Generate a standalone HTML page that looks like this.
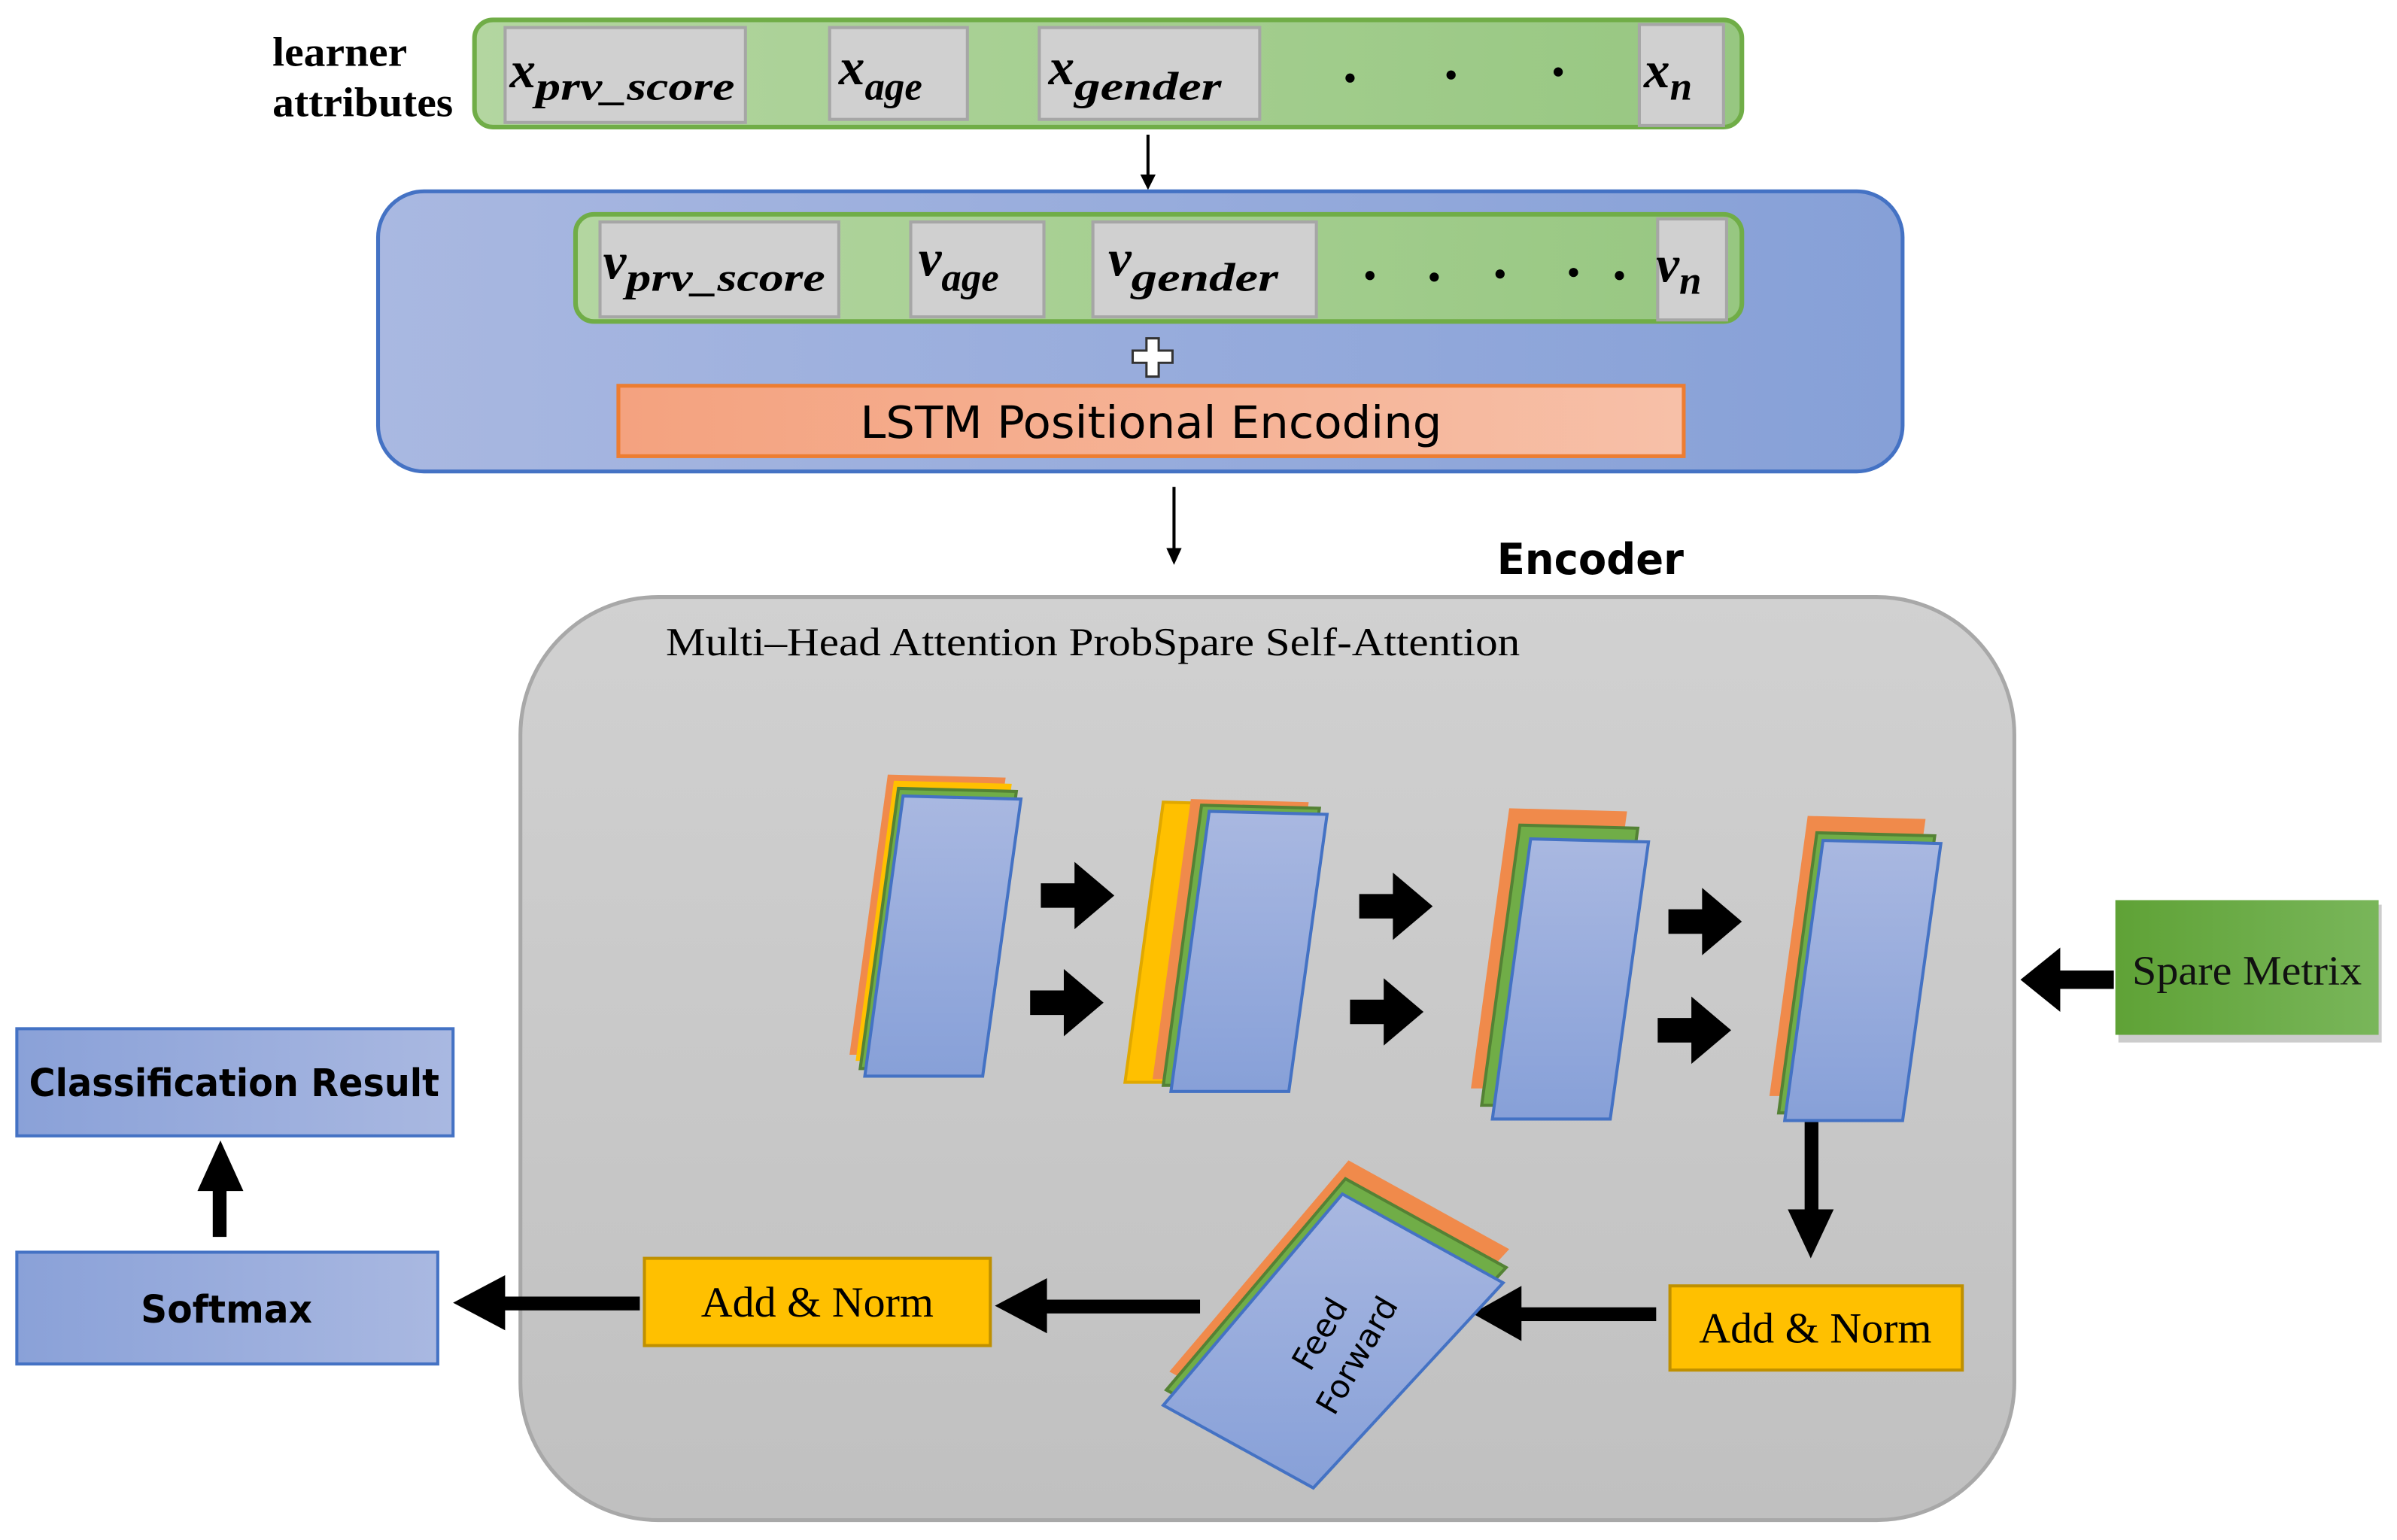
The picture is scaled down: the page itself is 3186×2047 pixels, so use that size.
<!DOCTYPE html>
<html><head><meta charset="utf-8"><style>html,body{margin:0;padding:0;background:#fff}svg{display:block}</style></head>
<body>
<svg width="3186" height="2047" viewBox="0 0 1566 1006" preserveAspectRatio="none" xmlns="http://www.w3.org/2000/svg">
<defs>
<linearGradient id="gg" x1="0" x2="1"><stop offset="0" stop-color="#b3d6a0"/><stop offset="1" stop-color="#97c781"/></linearGradient>
<linearGradient id="bg" x1="0" x2="1"><stop offset="0" stop-color="#a9b8e1"/><stop offset="1" stop-color="#86a0d7"/></linearGradient>
<linearGradient id="bg2" x1="0" x2="1"><stop offset="0" stop-color="#8aa1d8"/><stop offset="1" stop-color="#a9b8e1"/></linearGradient>
<linearGradient id="og" x1="0" x2="1"><stop offset="0" stop-color="#f4a27f"/><stop offset="1" stop-color="#f7c0a8"/></linearGradient>
<linearGradient id="gray" x1="0" y1="0" x2="0" y2="1"><stop offset="0" stop-color="#d1d1d1"/><stop offset="1" stop-color="#c0c0c0"/></linearGradient>
<linearGradient id="pb" x1="0" y1="0" x2="0" y2="1"><stop offset="0" stop-color="#a9b8e1"/><stop offset="1" stop-color="#87a0d8"/></linearGradient>
<linearGradient id="sg" x1="0" x2="1"><stop offset="0" stop-color="#5fa236"/><stop offset="1" stop-color="#79b65a"/></linearGradient>
<path id="pl" d="M25,0 L102,2 L77,183 L0,183 Z"/>
</defs>

<g font-family="Liberation Serif, serif" font-weight="bold" font-size="27" fill="#000">
<text x="178" y="43" textLength="88" lengthAdjust="spacingAndGlyphs">learner</text><text x="178" y="76" textLength="118" lengthAdjust="spacingAndGlyphs">attributes</text>
<text x="275" y="167" font-size="24" textLength="60" lengthAdjust="spacingAndGlyphs">Word</text><text x="275" y="198" font-size="24" textLength="66" lengthAdjust="spacingAndGlyphs">vector</text>
</g>
<rect x="310" y="13" width="828" height="70" rx="12" fill="url(#gg)" stroke="#70ad47" stroke-width="3"/>
<g fill="#d0d0d0" stroke="#a6a6a6" stroke-width="2">
<rect x="330" y="18" width="157" height="62"/><rect x="542" y="18" width="90" height="60"/><rect x="679" y="18" width="144" height="60"/><rect x="1071" y="16" width="55" height="66"/>
</g>
<g font-family="Liberation Serif, serif" font-style="italic" font-weight="bold" fill="#000">
<text x="333" y="57" font-size="34">x<tspan font-size="26" dy="8" textLength="130" lengthAdjust="spacingAndGlyphs">prv_score</tspan></text>
<text x="548" y="55" font-size="34">x<tspan font-size="26" dy="10">age</tspan></text>
<text x="685" y="55" font-size="34">x<tspan font-size="26" dy="10" textLength="96" lengthAdjust="spacingAndGlyphs">gender</tspan></text>
<text x="1074" y="57" font-size="34">x<tspan font-size="26" dy="8">n</tspan></text>
</g>
<g fill="#000"><circle cx="882" cy="51" r="3"/><circle cx="948" cy="49" r="3"/><circle cx="1018" cy="47" r="3"/></g>
<line x1="750" y1="88" x2="750" y2="118" stroke="#000" stroke-width="2"/><polygon points="745,114 755,114 750,124"/>

<rect x="247" y="125" width="996" height="183" rx="30" fill="url(#bg)" stroke="#4472c4" stroke-width="2.5"/>
<rect x="376" y="140" width="762" height="70" rx="12" fill="url(#gg)" stroke="#70ad47" stroke-width="3"/>
<g fill="#d0d0d0" stroke="#a6a6a6" stroke-width="2">
<rect x="392" y="145" width="156" height="62"/><rect x="595" y="145" width="87" height="62"/><rect x="714" y="145" width="146" height="62"/><rect x="1083" y="143" width="45" height="66"/>
</g>
<g font-family="Liberation Serif, serif" font-style="italic" font-weight="bold" fill="#000">
<text x="394" y="182" font-size="34">v<tspan font-size="26" dy="8" textLength="130" lengthAdjust="spacingAndGlyphs">prv_score</tspan></text>
<text x="600" y="180" font-size="34">v<tspan font-size="26" dy="10">age</tspan></text>
<text x="724" y="180" font-size="34">v<tspan font-size="26" dy="10" textLength="96" lengthAdjust="spacingAndGlyphs">gender</tspan></text>
<text x="1082" y="184" font-size="34">v<tspan font-size="26" dy="8">n</tspan></text>
</g>
<g fill="#000"><circle cx="895" cy="180" r="3"/><circle cx="937" cy="181" r="3"/><circle cx="980" cy="179" r="3"/><circle cx="1028" cy="178" r="3"/><circle cx="1058" cy="180" r="3"/></g>
<polygon points="749,221 757,221 757,229 766,229 766,237 757,237 757,246 749,246 749,237 740,237 740,229 749,229" fill="#fff" stroke="#333" stroke-width="1.5"/>
<rect x="404" y="252" width="696" height="46" fill="url(#og)" stroke="#ed7d31" stroke-width="2.5"/>
<text x="752" y="286" text-anchor="middle" font-family="DejaVu Sans, sans-serif" font-size="29" fill="#000" textLength="380" lengthAdjust="spacingAndGlyphs">LSTM Positional Encoding</text>
<line x1="767" y1="318" x2="767" y2="362" stroke="#000" stroke-width="2"/><polygon points="762,358 772,358 767,369"/>

<text x="978" y="375" font-family="DejaVu Sans, sans-serif" font-weight="bold" font-size="28" textLength="122" lengthAdjust="spacingAndGlyphs">Encoder</text>

<rect x="340" y="390" width="976" height="603" rx="90" fill="url(#gray)" stroke="#a8a8a8" stroke-width="2.5"/>
<text x="435" y="428" font-family="Liberation Serif, serif" font-size="26" textLength="558" lengthAdjust="spacingAndGlyphs">Multi–Head Attention  ProbSpare Self-Attention</text>

<g stroke-width="2">
<use href="#pl" x="555" y="506" fill="#f08a4b"/>
<use href="#pl" x="559" y="510" fill="#ffc000"/>
<use href="#pl" x="562" y="515" fill="#70ad47" stroke="#548235"/>
<use href="#pl" x="565" y="520" fill="url(#pb)" stroke="#4472c4"/>

<use href="#pl" x="735" y="524" fill="#ffc000" stroke="#e0a800"/>
<use href="#pl" x="753" y="522" fill="#f08a4b"/>
<use href="#pl" x="760" y="526" fill="#70ad47" stroke="#548235"/>
<use href="#pl" x="765" y="530" fill="url(#pb)" stroke="#4472c4"/>

<use href="#pl" x="961" y="528" fill="#f08a4b"/>
<use href="#pl" x="968" y="539" fill="#70ad47" stroke="#548235"/>
<use href="#pl" x="975" y="548" fill="url(#pb)" stroke="#4472c4"/>

<use href="#pl" x="1156" y="533" fill="#f08a4b"/>
<use href="#pl" x="1162" y="544" fill="#70ad47" stroke="#548235"/>
<use href="#pl" x="1166" y="549" fill="url(#pb)" stroke="#4472c4"/>
</g>

<g fill="#000">
<polygon points="680,577 702,577 702,563 728,585 702,607 702,593 680,593"/>
<polygon points="673,647 695,647 695,633 721,655 695,677 695,663 673,663"/>
<polygon points="888,584 910,584 910,570 936,592 910,614 910,600 888,600"/>
<polygon points="882,653 904,653 904,639 930,661 904,683 904,669 882,669"/>
<polygon points="1090,594 1112,594 1112,580 1138,602 1112,624 1112,610 1090,610"/>
<polygon points="1083,665 1105,665 1105,651 1131,673 1105,695 1105,681 1083,681"/>
</g>

<rect x="1179" y="733" width="9" height="60" fill="#000"/><polygon points="1168,790 1198,790 1183,822" fill="#000"/>
<rect x="1091" y="840" width="191" height="55" fill="#ffc000" stroke="#bf9000" stroke-width="2"/>
<text x="1186" y="877" text-anchor="middle" font-family="Liberation Serif, serif" font-size="28" textLength="152" lengthAdjust="spacingAndGlyphs">Add &amp; Norm</text>

<rect x="990" y="854" width="92" height="9" fill="#000"/><polygon points="994,840 994,876 962,858" fill="#000"/>

<g stroke-width="2">
<polygon points="881,758 986,816 862,950 764,896" fill="#f08a4b"/>
<polygon points="879,770 984,828 860,962 762,908" fill="#70ad47" stroke="#548235"/>
<polygon points="877,780 982,838 858,972 760,918" fill="url(#pb)" stroke="#4472c4"/>
</g>
<g transform="translate(872,877) rotate(-60)" font-family="DejaVu Sans, sans-serif" font-size="21" text-anchor="middle" fill="#000">
<text x="0" y="-4">Feed</text><text x="0" y="24">Forward</text>
</g>

<rect x="680" y="849" width="104" height="9" fill="#000"/><polygon points="684,835 684,871 650,853" fill="#000"/>
<rect x="421" y="822" width="226" height="57" fill="#ffc000" stroke="#bf9000" stroke-width="2"/>
<text x="534" y="860" text-anchor="middle" font-family="Liberation Serif, serif" font-size="28" textLength="152" lengthAdjust="spacingAndGlyphs">Add &amp; Norm</text>

<rect x="326" y="847" width="92" height="9" fill="#000"/><polygon points="330,833 330,869 296,851" fill="#000"/>

<rect x="11" y="818" width="275" height="73" fill="url(#bg2)" stroke="#4472c4" stroke-width="2"/>
<text x="148" y="864" text-anchor="middle" font-family="DejaVu Sans, sans-serif" font-weight="bold" font-size="25" textLength="112" lengthAdjust="spacingAndGlyphs">Softmax</text>
<rect x="139" y="775" width="9" height="33" fill="#000"/><polygon points="129,778 159,778 144,745" fill="#000"/>
<rect x="11" y="672" width="285" height="70" fill="url(#bg2)" stroke="#4472c4" stroke-width="2"/>
<text x="153" y="716" text-anchor="middle" font-family="DejaVu Sans, sans-serif" font-weight="bold" font-size="25" textLength="268" lengthAdjust="spacingAndGlyphs">Classification Result</text>

<rect x="1384" y="591" width="172" height="90" fill="#999" opacity="0.5"/>
<rect x="1382" y="588" width="172" height="88" fill="url(#sg)"/>
<text x="1468" y="643" text-anchor="middle" font-family="Liberation Serif, serif" font-size="27" fill="#111" textLength="150" lengthAdjust="spacingAndGlyphs">Spare Metrix</text>
<rect x="1344" y="634" width="37" height="12" fill="#000"/><polygon points="1346,619 1346,661 1320,640" fill="#000"/>
</svg>
</body></html>
